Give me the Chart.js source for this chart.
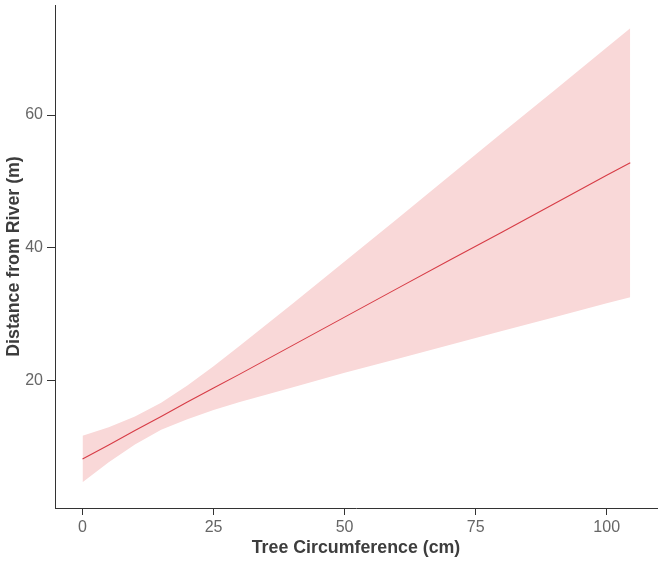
<!DOCTYPE html>
<html>
<head>
<meta charset="utf-8">
<script src="https://cdn.jsdelivr.net/npm/chart.js@4/dist/chart.umd.min.js"></script>
<style>
html,body{margin:0;padding:0;background:#fff;}
#wrap{width:661px;height:561px;position:relative;}
</style>
</head>
<body>
<div id="wrap"><canvas id="c"></canvas></div>
<script>
const circumference = [0, 5, 10, 15, 20, 25, 30, 40, 50, 60, 70, 80, 90, 100, 104.5];
const fitDistance   = [8.1, 10.2, 12.4, 14.5, 16.7, 18.8, 20.9, 25.2, 29.5, 33.8, 38.1, 42.3, 46.6, 50.9, 52.8];
const upperCI       = [11.6, 12.9, 14.5, 16.6, 19.2, 22.1, 25.2, 31.5, 37.9, 44.3, 50.8, 57.3, 63.7, 70.2, 73.1];
const lowerCI       = [4.6, 7.6, 10.3, 12.5, 14.1, 15.5, 16.7, 18.9, 21.1, 23.2, 25.3, 27.4, 29.5, 31.6, 32.5];
const xTicks = [0, 25, 50, 75, 100];
const yTicks = [20, 40, 60];

const pts = arr => circumference.map((x, i) => ({x: x, y: arr[i]}));
const FONT = 'Liberation Sans, Arial, sans-serif';

new Chart(document.getElementById('c'), {
  type: 'line',
  data: {
    datasets: [
      {data: pts(upperCI), order: 2, borderWidth: 0, borderColor: 'rgba(0,0,0,0)', backgroundColor: 'rgb(249,216,216)', fill: '+1', pointRadius: 0, tension: 0},
      {data: pts(lowerCI), order: 2, borderWidth: 0, borderColor: 'rgba(0,0,0,0)', fill: false, pointRadius: 0, tension: 0},
      {data: pts(fitDistance), order: 0, borderWidth: 1.1, borderColor: 'rgb(215,60,70)', fill: false, pointRadius: 0, tension: 0}
    ]
  },
  options: {
    responsive: true,
    maintainAspectRatio: false,
    animation: false,
    layout: {padding: {top: 5, right: 4, left: 0, bottom: 0}},
    plugins: {legend: {display: false}, tooltip: {enabled: false}},
    scales: {
      x: {
        type: 'linear',
        min: -5.25, max: 109.6,
        afterBuildTicks: s => { s.ticks = xTicks.map(v => ({value: v})); },
        afterFit: s => { s.height = 53; s.paddingLeft = 0; s.paddingRight = 0; },
        grid: {display: true, drawOnChartArea: false, drawTicks: true, tickLength: 7, color: '#333', lineWidth: 1},
        border: {display: true, color: '#333', width: 1},
        ticks: {color: '#666', font: {family: FONT, size: 16}, padding: 3, maxRotation: 0},
        title: {display: true, text: 'Tree Circumference (cm)', color: '#3d3d3d', font: {family: FONT, size: 17.8, weight: 'bold'}, padding: {top: 2, bottom: 2}}
      },
      y: {
        type: 'linear',
        min: 0.7, max: 76.6,
        afterBuildTicks: s => { s.ticks = yTicks.map(v => ({value: v})); },
        afterFit: s => { s.width = 55; s.paddingTop = 0; s.paddingBottom = 0; },
        grid: {display: true, drawOnChartArea: false, drawTicks: true, tickLength: 8, color: '#333', lineWidth: 1},
        border: {display: true, color: '#333', width: 1},
        ticks: {color: '#666', font: {family: FONT, size: 16}, padding: 4},
        title: {display: true, text: 'Distance from River (m)', color: '#3d3d3d', font: {family: FONT, size: 17.8, weight: 'bold'}, padding: {top: 3.5, bottom: 2}}
      }
    }
  }
});
</script>
</body>
</html>
